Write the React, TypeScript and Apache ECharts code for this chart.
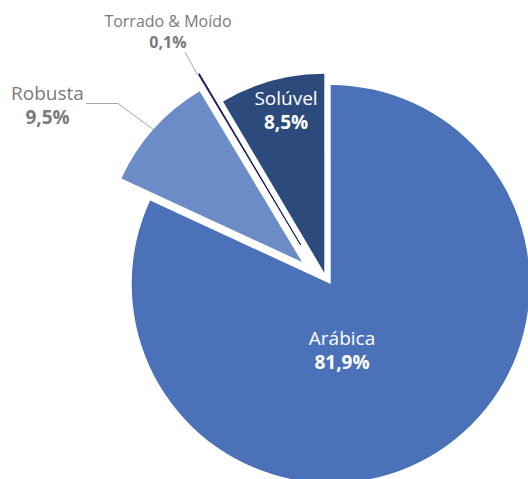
import React, { useEffect, useRef } from "react";
import * as echarts from "echarts";

const categories = ["Arábica", "Robusta", "Torrado & Moído", "Solúvel"];
const shares = [81.9, 9.5, 0.1, 8.5];

const colors = ["#4B72B8", "#6C8CC8", "#1E1F5E", "#2D4A7D"];
// vertex of each exploded slice (layout)
const centers = [
  [330.7, 284],
  [302, 262],
  [300.7, 245],
  [324.3, 272.7],
];
const RADIUS = 199;
const labelPos = [
  [342, 350],
  [47.5, 105],
  [168, 31],
  [286, 110],
];
const labelInside = [true, false, false, true];
const labelLinePts: (number[][] | null)[] = [
  null,
  [
    [154, 130],
    [118, 103.5],
    [86, 103.5],
  ],
  [
    [197, 74],
    [185, 52],
  ],
  null,
];
const fontSizes = [19, 19, 16, 19];

const fmt = (v: number) => v.toFixed(1).replace(".", ",") + "%";

export default function App() {
  const ref = useRef<HTMLDivElement>(null);
  useEffect(() => {
    if (!ref.current) return;
    const chart = echarts.init(ref.current, null, { renderer: "svg" });
    const series = categories.map((_, i) => {
      const inside = labelInside[i];
      const txt = inside ? "#FFFFFF" : "#7A7A7A";
      return {
        type: "pie",
        center: centers[i],
        radius: [0, RADIUS],
        startAngle: 90,
        clockwise: true,
        silent: true,
        avoidLabelOverlap: false,
        emphasis: { disabled: true },
        labelLayout: (p: any) =>
          p.dataIndex === i
            ? {
                x: labelPos[i][0],
                y: labelPos[i][1],
                align: "center",
                verticalAlign: "middle",
                ...(labelLinePts[i] ? { labelLinePoints: labelLinePts[i] } : {}),
              }
            : {},
        data: categories.map((name, j) => {
          const vis = j === i;
          return {
            name,
            value: shares[j],
            itemStyle: vis
              ? {
                  color: colors[j],
                  borderColor: j === 2 ? colors[j] : "transparent",
                  borderWidth: j === 2 ? 1 : 0,
                }
              : { color: "transparent", borderWidth: 0 },
            label: vis
              ? {
                  show: true,
                  position: inside ? "inside" : "outside",
                  formatter: `{n|${name}}\n{b|${fmt(shares[j])}}`,
                  rich: {
                    n: {
                      fontFamily: "Open Sans",
                      fontSize: fontSizes[j],
                      color: txt,
                      lineHeight: fontSizes[j] + 5,
                      align: "center",
                    },
                    b: {
                      fontFamily: "Open Sans",
                      fontSize: fontSizes[j],
                      fontWeight: "bold",
                      color: txt,
                      lineHeight: fontSizes[j] + 5,
                      align: "center",
                    },
                  },
                }
              : { show: false },
            labelLine: vis && !inside
              ? { show: true, lineStyle: { color: "#A6A6A6", width: 1 } }
              : { show: false },
          };
        }),
      };
    });
    chart.setOption({
      animation: false,
      backgroundColor: "#FFFFFF",
      series,
    } as any);
    return () => chart.dispose();
  }, []);
  return (
    <div
      ref={ref}
      style={{ position: "absolute", left: 0, top: 0, width: 528, height: 479 }}
    />
  );
}
